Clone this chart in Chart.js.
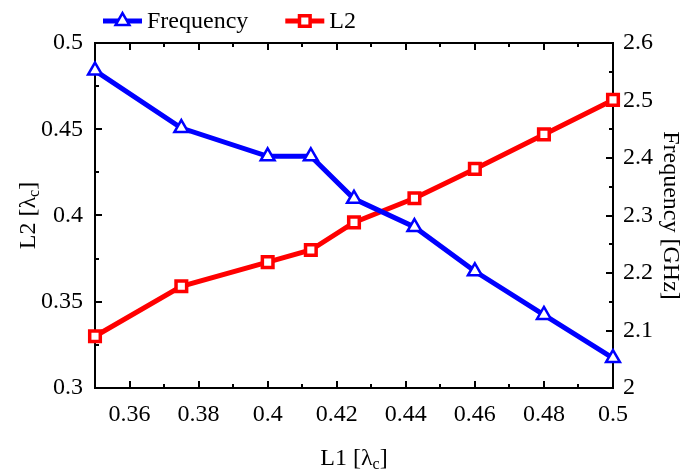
<!DOCTYPE html>
<html>
<head>
<meta charset="utf-8">
<script src="https://cdn.jsdelivr.net/npm/chart.js@4.4.1/dist/chart.umd.min.js"></script>
<style>
  body { margin: 0; background: #fff; }
  #wrap { width: 689px; height: 474px; }
</style>
</head>
<body>
<div id="wrap"><canvas id="chart" width="689" height="474"></canvas></div>
<script>
// DATA
const l1 = [0.35, 0.375, 0.4, 0.4125, 0.425, 0.4425, 0.46, 0.48, 0.5];
const frequency = [2.552, 2.452, 2.403, 2.403, 2.329, 2.28, 2.203, 2.127, 2.052];
const l2 = [0.33, 0.359, 0.373, 0.38, 0.396, 0.41, 0.427, 0.447, 0.467];

const xTicks = [0.36, 0.38, 0.4, 0.42, 0.44, 0.46, 0.48, 0.5];
const xMinor = [0.37, 0.39, 0.41, 0.43, 0.45, 0.47, 0.49];
const l2Ticks = [0.3, 0.35, 0.4, 0.45, 0.5];
const l2Minor = [0.325, 0.375, 0.425, 0.475];
const freqTicks = [2, 2.1, 2.2, 2.3, 2.4, 2.5, 2.6];
const freqMinor = [2.05, 2.15, 2.25, 2.35, 2.45, 2.55];

const FONT = "'Liberation Serif', 'Times New Roman', serif";
const BLUE = "#0000ff";
const RED = "#ff0000";

function line(ctx, x1, y1, x2, y2) {
  ctx.beginPath();
  ctx.moveTo(x1, y1);
  ctx.lineTo(x2, y2);
  ctx.stroke();
}

// text with a subscript part: parts = [[text, isSub], ...]
function drawParts(ctx, parts, cx, cy, rot) {
  ctx.save();
  ctx.translate(cx, cy);
  ctx.rotate(rot);
  ctx.textBaseline = "middle";
  ctx.textAlign = "left";
  const widths = parts.map(([t, sub]) => {
    ctx.font = (sub ? "16px " : "24px ") + FONT;
    return ctx.measureText(t).width;
  });
  let x = -widths.reduce((a, b) => a + b, 0) / 2;
  parts.forEach(([t, sub], i) => {
    ctx.font = (sub ? "16px " : "24px ") + FONT;
    ctx.fillText(t, x, sub ? 6 : 0);
    x += widths[i];
  });
  ctx.restore();
}

// box + inward ticks
const framePlugin = {
  id: "frame",
  beforeDatasetsDraw(chart) {
    const { ctx, chartArea: a, scales } = chart;
    ctx.save();
    ctx.strokeStyle = "#000";
    ctx.lineWidth = 2;
    ctx.strokeRect(a.left, a.top, a.right - a.left, a.bottom - a.top);

    const xt = (vals, len) => vals.forEach((v) => {
      const px = Math.round(scales.x.getPixelForValue(v));
      line(ctx, px, a.bottom, px, a.bottom - len);
      line(ctx, px, a.top, px, a.top + len);
    });
    const yt = (scale, vals, len, left) => vals.forEach((v) => {
      const py = Math.round(scale.getPixelForValue(v));
      if (left) line(ctx, a.left, py, a.left + len, py);
      else line(ctx, a.right, py, a.right - len, py);
    });
    xt(xTicks, 7);
    xt(xMinor, 4);
    yt(scales.y, l2Ticks, 7, true);
    yt(scales.y, l2Minor, 4, true);
    yt(scales.y1, freqTicks, 7, false);
    yt(scales.y1, freqMinor, 4, false);
    ctx.restore();
  },
  afterDraw(chart) {
    const { ctx, chartArea: a } = chart;
    ctx.save();
    ctx.fillStyle = "#000";
    drawParts(ctx, [["L1 [λ", false], ["c", true], ["]", false]], (a.left + a.right) / 2, 459, 0);
    drawParts(ctx, [["L2 [λ", false], ["c", true], ["]", false]], 29, (a.top + a.bottom) / 2, -Math.PI / 2);
    drawParts(ctx, [["Frequency [GHz]", false]], 670, (a.top + a.bottom) / 2, Math.PI / 2);

    // legend
    let x = 103;
    const y = 21;
    chart.data.datasets.forEach((ds) => {
      ctx.strokeStyle = ds.borderColor;
      ctx.lineWidth = 5;
      line(ctx, x, y, x + 39, y);
      ctx.fillStyle = "#fff";
      ctx.lineWidth = ds.pointBorderWidth;
      Chart.helpers.drawPoint(ctx, {
        pointStyle: ds.pointStyle,
        radius: ds.pointRadius,
        rotation: 0,
        borderWidth: ds.pointBorderWidth,
      }, x + 19.5, y);
      ctx.fillStyle = "#000";
      ctx.font = "24px " + FONT;
      ctx.textBaseline = "middle";
      ctx.textAlign = "left";
      ctx.fillText(ds.label, x + 44, y + 1);
      x += 44 + ctx.measureText(ds.label).width + 37;
    });
    ctx.restore();
  },
};

const tickFont = { family: FONT, size: 24 };

new Chart(document.getElementById("chart"), {
  type: "line",
  data: {
    datasets: [
      {
        label: "Frequency",
        data: l1.map((v, i) => ({ x: v, y: frequency[i] })),
        yAxisID: "y1",
        borderColor: BLUE,
        borderWidth: 5,
        pointStyle: "triangle",
        pointRadius: 8,
        pointBorderWidth: 2.5,
        pointBackgroundColor: "#fff",
        pointBorderColor: BLUE,
        tension: 0,
        clip: false,
      },
      {
        label: "L2",
        data: l1.map((v, i) => ({ x: v, y: l2[i] })),
        yAxisID: "y",
        borderColor: RED,
        borderWidth: 5,
        pointStyle: "rect",
        pointRadius: 7.5,
        pointBorderWidth: 3.5,
        pointBackgroundColor: "#fff",
        pointBorderColor: RED,
        tension: 0,
        clip: false,
      },
    ],
  },
  options: {
    responsive: false,
    animation: false,
    events: [],
    layout: { padding: { top: 43 } },
    plugins: { legend: { display: false }, tooltip: { enabled: false } },
    scales: {
      x: {
        type: "linear",
        min: 0.35,
        max: 0.5,
        grid: { display: false, drawTicks: false },
        border: { display: false },
        afterBuildTicks: (s) => { s.ticks = xTicks.map((v) => ({ value: v })); },
        afterFit: (s) => { s.height = 86; },
        ticks: { font: tickFont, color: "#000", padding: 12, maxRotation: 0, callback: (v) => String(v) },
      },
      y: {
        type: "linear",
        position: "left",
        min: 0.3,
        max: 0.5,
        grid: { display: false, drawTicks: false },
        border: { display: false },
        afterBuildTicks: (s) => { s.ticks = l2Ticks.map((v) => ({ value: v })); },
        afterFit: (s) => { s.width = 95; },
        ticks: { font: tickFont, color: "#000", padding: 12, callback: (v) => String(v) },
      },
      y1: {
        type: "linear",
        position: "right",
        min: 2,
        max: 2.6,
        grid: { display: false, drawTicks: false },
        border: { display: false },
        afterBuildTicks: (s) => { s.ticks = freqTicks.map((v) => ({ value: v })); },
        afterFit: (s) => { s.width = 76; },
        ticks: { font: tickFont, color: "#000", padding: 10, callback: (v) => String(v) },
      },
    },
  },
  plugins: [framePlugin],
});
</script>
</body>
</html>
